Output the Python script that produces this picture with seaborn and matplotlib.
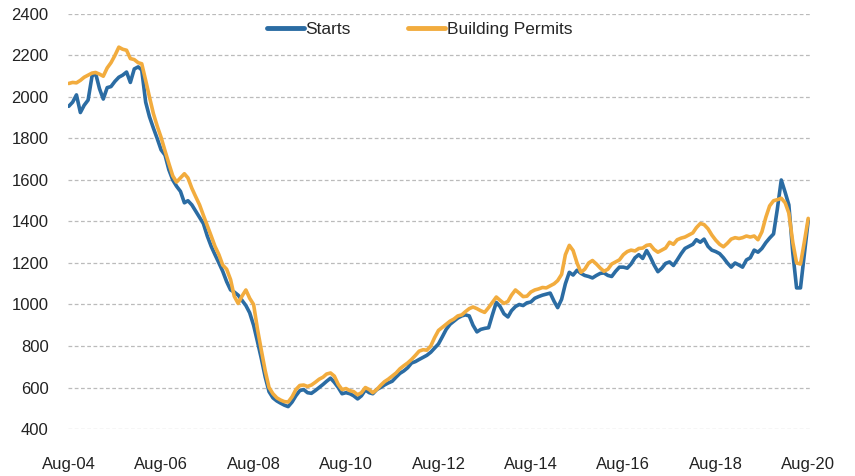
import matplotlib
matplotlib.use("Agg")
import matplotlib.pyplot as plt
import matplotlib.dates as mdates
import seaborn as sns
import pandas as pd
import numpy as np

# Monthly, Aug-04 .. Aug-20 (thousands, SAAR)
months = pd.date_range("2004-08-01", "2020-08-01", freq="MS")

starts = [
    1955, 1975, 2010, 1925, 1960, 1985, 2100, 2115, 2040, 1990, 2045, 2050,
    2075, 2095, 2105, 2120, 2070, 2135, 2145, 2130, 1975, 1905, 1850, 1800,
    1745, 1720, 1650, 1600, 1570, 1545, 1490, 1500, 1480, 1450, 1420, 1390,
    1330, 1280, 1240, 1200, 1160, 1110, 1070, 1060, 1045, 1020, 995, 960,
    900, 820, 740, 650, 580, 550, 535, 525, 515, 508, 530, 560,
    585, 590, 575, 572, 585, 600, 615, 630, 645, 625, 600, 570,
    575, 570, 560, 545, 560, 588, 575, 570, 590, 600, 612, 622,
    630, 650, 668, 680, 695, 718, 725, 735, 745, 755, 770, 790,
    810, 845, 880, 905, 920, 935, 945, 950, 945, 900, 868, 880,
    885, 888, 950, 1010, 990, 955, 940, 970, 990, 1000, 995, 1008,
    1012, 1030, 1038, 1045, 1050, 1055, 1015, 985, 1025, 1100, 1155, 1142,
    1165, 1150, 1140, 1135, 1128, 1140, 1150, 1152, 1140, 1135, 1160, 1180,
    1180, 1175, 1195, 1225, 1240, 1222, 1260, 1230, 1190, 1158, 1175, 1198,
    1205, 1188, 1215, 1245, 1270, 1280, 1290, 1312, 1300, 1315, 1280, 1262,
    1255, 1245, 1225, 1200, 1180, 1200, 1190, 1180, 1215, 1225, 1262, 1252,
    1270, 1298, 1320, 1340, 1460, 1600, 1540, 1480, 1250, 1080, 1080, 1240,
    1405,
]

permits = [
    2065, 2070, 2068, 2080, 2095, 2105, 2115, 2118, 2110, 2100, 2140, 2165,
    2200, 2240, 2230, 2225, 2185, 2180, 2165, 2160, 2080, 2000, 1920, 1860,
    1805, 1740, 1680, 1620, 1590, 1610, 1630, 1610, 1560, 1520, 1480, 1430,
    1380, 1330, 1280, 1240, 1190, 1170, 1120, 1040, 1005, 1040, 1070, 1030,
    1000, 880, 780, 680, 600, 570, 550, 540, 532, 530, 555, 590,
    610, 612, 605, 612, 625, 640, 650, 665, 670, 655, 615, 590,
    595, 585, 580, 565, 575, 600, 590, 575, 590, 610, 628, 640,
    655, 670, 690, 705, 718, 735, 755, 775, 782, 780, 800, 840,
    875, 890, 905, 920, 930, 945, 950, 965, 980, 988, 980, 970,
    962, 985, 1010, 1036, 1020, 1005, 1015, 1045, 1070, 1055, 1038, 1040,
    1060, 1070, 1075, 1082, 1080, 1090, 1100, 1115, 1145, 1240, 1285, 1260,
    1200, 1155, 1170, 1200, 1212, 1195, 1175, 1160, 1170, 1195, 1205, 1215,
    1240, 1255, 1262, 1258, 1270, 1272, 1285, 1288, 1265, 1252, 1262, 1272,
    1300, 1290, 1312, 1320, 1325, 1335, 1345, 1370, 1390, 1385, 1365, 1335,
    1310, 1290, 1278, 1295, 1315, 1322, 1318, 1322, 1330, 1325, 1330, 1312,
    1350, 1420, 1475, 1500, 1505, 1512, 1490, 1440, 1300, 1200, 1195, 1300,
    1415,
]

series_names = ["Starts", "Building Permits"]
colors = ["#2B6CA3", "#F2AC3E"]
yticks = list(range(400, 2401, 200))
xtick_dates = pd.to_datetime([f"{y}-08-01" for y in range(2004, 2021, 2)])

df = pd.DataFrame({"date": months, "Starts": starts, "Building Permits": permits})
long_df = df.melt(id_vars="date", var_name="series", value_name="value")

sns.set_theme(style="white")
plt.rcParams["font.family"] = ["Liberation Sans", "DejaVu Sans"]

fig = plt.figure(figsize=(8.55, 4.76), dpi=100)
ax = fig.add_axes([0.0795, 0.0987, 0.868, 0.872])

sns.lineplot(data=long_df, x="date", y="value", hue="series",
             hue_order=series_names, palette=colors, linewidth=2.6, ax=ax)

ax.set_ylim(400, 2400)
ax.set_yticks(yticks)
ax.set_xlim(pd.Timestamp("2004-07-26"), pd.Timestamp("2020-08-16"))
ax.set_xticks(xtick_dates)
ax.xaxis.set_major_formatter(mdates.DateFormatter("%b-%y"))
ax.set_xlabel("")
ax.set_ylabel("")

ax.grid(axis="y", color="#BBBBBB", linestyle=(0, (3, 2)), linewidth=0.9)
ax.set_axisbelow(True)
for s in ax.spines.values():
    s.set_visible(False)
ax.tick_params(axis="both", length=0, labelsize=12, colors="#222222")
ax.tick_params(axis="y", pad=14)
ax.tick_params(axis="x", pad=20)

leg = ax.legend(loc="center", bbox_to_anchor=(0.474, 0.962), ncol=2, frameon=False,
                fontsize=12.5, handlelength=2.1, handletextpad=0.1, columnspacing=3.3)
for line in leg.get_lines():
    line.set_linewidth(3.5)

fig.savefig("out.png", dpi=100)
